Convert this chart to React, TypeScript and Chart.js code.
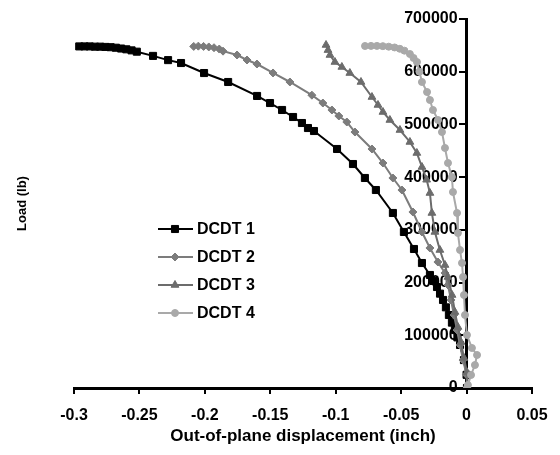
import React, { useEffect, useRef } from 'react';
import { Chart, registerables } from 'chart.js';
import { drawPoint } from 'chart.js/helpers';

Chart.register(...registerables);

const seriesNames = ['DCDT 1', 'DCDT 2', 'DCDT 3', 'DCDT 4'];

const dcdt1X = [-0.296, -0.292, -0.288, -0.284, -0.28, -0.276, -0.272, -0.268, -0.264, -0.26, -0.256, -0.252, -0.2396, -0.2281, -0.2182, -0.2006, -0.1822, -0.1601, -0.1502, -0.141, -0.1326, -0.1258, -0.1212, -0.1166, -0.099, -0.0868, -0.0777, -0.0693, -0.0563, -0.0479, -0.0402, -0.0341, -0.028, -0.0253, -0.0226, -0.0203, -0.018, -0.0158, -0.0135, -0.0112, -0.0089, -0.007, -0.005, -0.002, 0, 0.0003];
const dcdt1Y = [648000, 648000, 648000, 647500, 647500, 647000, 646500, 645500, 644000, 642500, 640500, 638000, 630000, 622000, 616500, 597500, 580500, 554000, 540600, 527400, 514100, 502700, 493200, 487500, 453400, 424900, 398400, 375600, 332000, 296000, 263700, 237100, 214400, 203000, 191600, 179000, 167000, 153000, 138500, 124000, 110000, 96000, 81600, 53000, 25000, 0];

const dcdt2X = [-0.2085, -0.205, -0.201, -0.197, -0.193, -0.189, -0.1861, -0.1754, -0.1678, -0.1602, -0.1479, -0.135, -0.1182, -0.1098, -0.1029, -0.0976, -0.0915, -0.0853, -0.0723, -0.0639, -0.0563, -0.0494, -0.041, -0.0341, -0.028, -0.0219, -0.0165, -0.0142, -0.0119, -0.0096, -0.0073, -0.005, -0.0027, 0, 0.0005];
const dcdt2Y = [648000, 648500, 648000, 647000, 645500, 643000, 639000, 631700, 622200, 614600, 597600, 580500, 555500, 540600, 527400, 516000, 504600, 485600, 453400, 426800, 398400, 375600, 333900, 296000, 265600, 239000, 218200, 195400, 167000, 138500, 110000, 81600, 53000, 25000, 0];

const dcdt3X = [-0.1074, -0.1059, -0.1044, -0.1006, -0.0953, -0.0892, -0.0807, -0.0723, -0.0677, -0.0639, -0.0586, -0.0509, -0.0433, -0.038, -0.0341, -0.0305, -0.028, -0.0265, -0.0242, -0.0204, -0.0165, -0.0142, -0.0111, -0.0089, -0.0066, -0.0043, -0.002, 0.0003, 0.001];
const dcdt3Y = [650700, 641000, 631700, 618400, 609000, 597500, 580500, 552000, 536900, 523600, 508400, 489400, 466700, 445800, 419200, 395000, 369900, 332000, 296000, 261800, 233300, 210600, 176400, 144200, 115700, 87300, 57000, 30000, 0];

const dcdt4X = [-0.0776, -0.073, -0.0685, -0.064, -0.0595, -0.055, -0.051, -0.0475, -0.0433, -0.0405, -0.0379, -0.036, -0.0341, -0.0302, -0.028, -0.0257, -0.0218, -0.0188, -0.0165, -0.0142, -0.0112, -0.0104, -0.0073, -0.0066, -0.005, -0.0035, -0.0027, -0.002, -0.0012, 0.0003, 0.0041, 0.008, 0.0064, 0.0034, 0.001, 0.0003];
const dcdt4Y = [648800, 649000, 649000, 648500, 647500, 646000, 643500, 640000, 633600, 626000, 618400, 600000, 580500, 561500, 546300, 527400, 508400, 485600, 455300, 426800, 400200, 371800, 332000, 294000, 261800, 237100, 210600, 176400, 138500, 100500, 75900, 62600, 43600, 24700, 5700, 0];

const xTicks = [-0.3, -0.25, -0.2, -0.15, -0.1, -0.05, 0, 0.05];
const yTicks = [0, 100000, 200000, 300000, 400000, 500000, 600000, 700000];

const xTitle = 'Out-of-plane displacement (inch)';
const yTitle = 'Load (lb)';

const FONT = 'Arial, "Liberation Sans", sans-serif';

const zip = (xs: number[], ys: number[]) => xs.map((x, i) => ({ x, y: ys[i] }));

const legendPlugin = {
  id: 'insideLegend',
  afterDatasetsDraw(chart: any) {
    const ctx = chart.ctx;
    ctx.save();
    chart.data.datasets.forEach((ds: any, i: number) => {
      const y = 221 + i * 28;
      ctx.strokeStyle = ds.borderColor;
      ctx.lineWidth = 2;
      ctx.beginPath();
      ctx.moveTo(150, y);
      ctx.lineTo(185, y);
      ctx.stroke();
      ctx.fillStyle = ds.pointBackgroundColor;
      ctx.strokeStyle = ds.pointBorderColor;
      ctx.lineWidth = 1;
      drawPoint(ctx, { pointStyle: ds.pointStyle, radius: ds.pointRadius, rotation: 0, borderWidth: 1 } as any, 167, y);
      ctx.fillStyle = '#000';
      ctx.font = `bold 16px ${FONT}`;
      ctx.textBaseline = 'middle';
      ctx.textAlign = 'left';
      ctx.fillText(ds.label, 189, y + 1);
    });
    ctx.restore();
  },
};

const shiftYLabels = (s: any) => {
  if (s.__patched) return;
  const orig = s._computeLabelItems.bind(s);
  s._computeLabelItems = (ca: any) => {
    const items = orig(ca);
    items.forEach((it: any) => {
      const t = it.options.translation;
      it.options.translation = [t[0] - 9, t[1]];
    });
    return items;
  };
  s.__patched = true;
};

export default function App() {
  const ref = useRef<HTMLCanvasElement>(null);
  useEffect(() => {
    if (!ref.current) return;
    const mk = (label: string, xs: number[], ys: number[], color: string, style: string, r: number, order: number) => ({
      label,
      data: zip(xs, ys),
      showLine: true,
      borderColor: color,
      borderWidth: 2,
      pointStyle: style,
      pointRadius: r,
      pointBackgroundColor: color,
      pointBorderColor: color,
      pointBorderWidth: 1,
      order,
    });
    const chart = new Chart(ref.current, {
      type: 'scatter',
      data: {
        datasets: [
          mk(seriesNames[0], dcdt1X, dcdt1Y, '#000000', 'rect', 5, 4),
          mk(seriesNames[1], dcdt2X, dcdt2Y, '#7c7c7c', 'rectRot', 4, 3),
          mk(seriesNames[2], dcdt3X, dcdt3Y, '#6c6c6c', 'triangle', 4.5, 2),
          mk(seriesNames[3], dcdt4X, dcdt4Y, '#a9a9a9', 'circle', 3.5, 1),
        ] as any,
      },
      options: {
        animation: false,
        responsive: true,
        maintainAspectRatio: false,
        layout: { padding: { left: 0, right: 20, top: 11, bottom: 0 } },
        plugins: { legend: { display: false }, tooltip: { enabled: false } },
        scales: {
          x: {
            type: 'linear',
            position: 'bottom',
            min: -0.3,
            max: 0.05,
            afterBuildTicks: (s: any) => { s.ticks = xTicks.map((v) => ({ value: v })); },
            afterFit: (s: any) => { s.height = 59; s.paddingRight = 0; s.paddingLeft = 0; },
            ticks: {
              callback: (v: any) => String(v),
              font: { family: FONT, size: 16, weight: 'bold' },
              color: '#000',
              padding: 12,
              maxRotation: 0,
              autoSkip: false,
            },
            grid: { drawOnChartArea: false, drawTicks: true, tickLength: 6, color: '#000', lineWidth: 2 },
            border: { display: true, color: '#000', width: 3 },
            title: { display: true, text: xTitle, font: { family: FONT, size: 17, weight: 'bold' }, color: '#000', padding: { top: 0, bottom: 0 } },
          },
          y: {
            type: 'linear',
            position: { x: 0 } as any,
            min: 0,
            max: 700000,
            beforeUpdate: shiftYLabels,
            afterBuildTicks: (s: any) => { s.ticks = yTicks.map((v) => ({ value: v })); },
            afterFit: (s: any) => { s.paddingTop = 0; s.paddingBottom = 0; },
            ticks: {
              callback: (v: any) => String(v),
              font: { family: FONT, size: 16, weight: 'bold' },
              color: '#000',
              padding: 4,
            },
            grid: { drawOnChartArea: false, drawTicks: true, tickLength: 6, color: '#000', lineWidth: 2 },
            border: { display: true, color: '#000', width: 3 },
          },
          yt: {
            type: 'linear',
            position: 'left',
            min: 0,
            max: 700000,
            afterFit: (s: any) => { s.width = 66; },
            ticks: { display: false },
            grid: { display: false },
            border: { display: false },
            title: { display: true, text: yTitle, font: { family: FONT, size: 13, weight: 'bold' }, color: '#000', padding: { top: 7, bottom: 0 } },
          },
        } as any,
      },
      plugins: [legendPlugin],
    });
    return () => chart.destroy();
  }, []);
  return (
    <div style={{ width: 544, height: 439, position: 'relative' }}>
      <canvas ref={ref} />
    </div>
  );
}
